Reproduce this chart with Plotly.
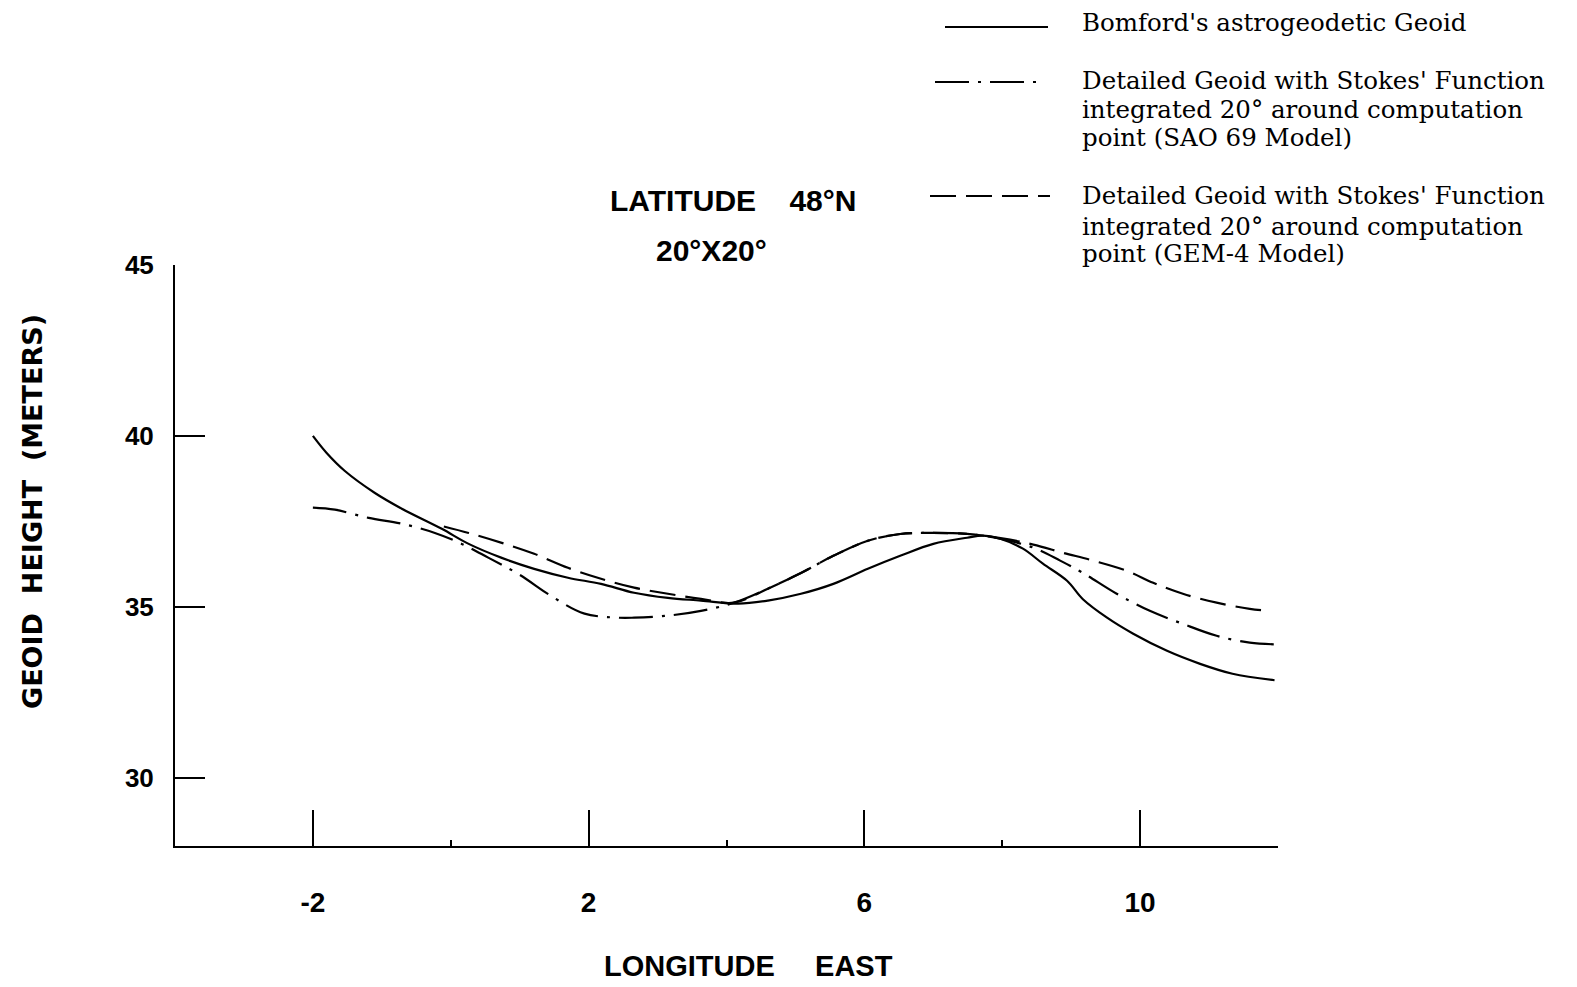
import plotly.graph_objects as go

# ---------------- data ----------------
bomford_x = [-2.0, -1.80, -1.54, -1.10, -0.71, -0.13, 0.26, 0.74, 1.21, 1.70, 2.18, 2.66, 3.15, 3.63,
             4.17, 4.60, 5.08, 5.55, 6.05, 6.52, 7.00, 7.49, 7.72, 7.97, 8.30, 8.59, 8.94,
             9.17, 9.52, 9.90, 10.39, 10.87, 11.34, 11.95]
bomford_y = [40.00, 39.50, 38.98, 38.33, 37.87, 37.28, 36.84, 36.43, 36.11, 35.85, 35.67, 35.41, 35.26, 35.18,
             35.09, 35.18, 35.38, 35.67, 36.11, 36.49, 36.84, 37.02, 37.08, 36.99, 36.70, 36.26, 35.76,
             35.22, 34.68, 34.21, 33.71, 33.33, 33.04, 32.85]

sao69_x = [-2.0, -1.68, -1.19, -0.71, -0.23, 0.16, 0.55, 0.98, 1.50, 1.94, 2.43, 2.66, 3.15, 3.63,
           4.11, 4.60, 5.08, 5.55, 6.05, 6.52, 7.00, 7.49, 7.97, 8.45, 8.84, 9.17, 9.66,
           10.14, 10.62, 11.11, 11.59, 11.95]
sao69_y = [37.90, 37.84, 37.60, 37.43, 37.16, 36.84, 36.43, 35.96, 35.26, 34.80, 34.68, 34.68, 34.74, 34.88,
           35.12, 35.53, 35.99, 36.49, 36.93, 37.13, 37.16, 37.13, 36.99, 36.73, 36.35, 35.99, 35.38,
           34.88, 34.50, 34.15, 33.95, 33.90]

gem4_x = [-0.10, 0.26, 0.74, 1.21, 1.70, 2.18, 2.66, 3.15, 3.63, 4.11, 4.60, 5.08, 5.55, 6.05,
          6.52, 7.00, 7.49, 8.00, 8.45, 8.88, 9.32, 9.81, 10.19, 10.62, 11.11, 11.59, 11.90]
gem4_y = [37.35, 37.16, 36.87, 36.55, 36.14, 35.82, 35.56, 35.38, 35.23, 35.12, 35.53, 35.99, 36.49, 36.93,
          37.13, 37.16, 37.13, 37.00, 36.82, 36.58, 36.35, 36.05, 35.70, 35.38, 35.12, 34.94, 34.88]

x_tickvals = [-2, 2, 6, 10, 12]
x_ticktext = ["-2", "2", "6", "10", ""]
x_minor_ticks = [0, 4, 8]
y_tickvals = [30, 35, 40, 45]
y_ticktext = ["30", "35", "40", "45"]

legend_lines = [
    ["Bomford's astrogeodetic Geoid"],
    ["Detailed Geoid with Stokes' Function", "integrated 20° around computation", "point (SAO 69 Model)"],
    ["Detailed Geoid with Stokes' Function", "integrated 20° around computation", "point (GEM-4 Model)"],
]
title_lines = ["LATITUDE\u00a0\u00a0\u00a0\u00a048°N", "20°X20°"]
x_title = "LONGITUDE\u00a0\u00a0\u00a0\u00a0\u00a0EAST"
y_title = "GEOID\u00a0\u00a0HEIGHT\u00a0\u00a0(METERS)"

# ---------------- layout geometry ----------------
W, H = 1577, 987
OFF = 8  # page body margin
L, T = 167, 257
PW, PH = 1103, 581
R, B = W - L - PW, H - T - PH


def px(xp):
    return (xp - OFF - L) / PW


def py(yp):
    return (T + PH - (yp - OFF)) / PH


SANS = "Liberation Sans"
WIDE_SANS = "DejaVu Sans"
SERIF = "DejaVu Serif"
DASHDOT = "34px,9px,3px,9px"
DASHED = "26px,10px"
SM = 1.0

fig = go.Figure()
fig.add_trace(go.Scatter(x=bomford_x, y=bomford_y, mode="lines",
                         line=dict(color="black", width=2.2, shape="spline", smoothing=SM),
                         showlegend=False))
fig.add_trace(go.Scatter(x=sao69_x, y=sao69_y, mode="lines",
                         line=dict(color="black", width=2.2, shape="spline", smoothing=SM, dash=DASHDOT),
                         showlegend=False))
fig.add_trace(go.Scatter(x=gem4_x, y=gem4_y, mode="lines",
                         line=dict(color="black", width=2.2, shape="spline", smoothing=SM, dash=DASHED),
                         showlegend=False))

shapes = []
annotations = []
# legend samples and texts
legend_items = [
    (945, 1048, 27, None, [22]),
    (935, 1043, 82, DASHDOT, [80, 110, 137]),
    (930, 1050, 196, DASHED, [196, 226, 254]),
]
for (x0, x1, yl, dash, ys), lines in zip(legend_items, legend_lines):
    ln = dict(color="black", width=2)
    if dash:
        ln["dash"] = dash
    shapes.append(dict(type="line", xref="paper", yref="paper",
                       x0=px(x0), x1=px(x1), y0=py(yl), y1=py(yl), line=ln))
    for yt, txt in zip(ys, lines):
        annotations.append(dict(xref="paper", yref="paper", x=px(1080), y=py(yt),
                                xanchor="left", yanchor="middle", align="left", showarrow=False,
                                text=txt, font=dict(family=SERIF, size=24.5, color="black")))

annotations.append(dict(xref="paper", yref="paper", x=px(733), y=py(201), xanchor="center",
                        yanchor="middle", showarrow=False, text=title_lines[0],
                        font=dict(family=SANS, size=30, color="black", weight="bold")))
annotations.append(dict(xref="paper", yref="paper", x=px(711), y=py(250), xanchor="center",
                        yanchor="middle", showarrow=False, text=title_lines[1],
                        font=dict(family=SANS, size=30, color="black", weight="bold")))
annotations.append(dict(xref="paper", yref="paper", x=px(748), y=py(966), xanchor="center",
                        yanchor="middle", showarrow=False, text=x_title,
                        font=dict(family=SANS, size=29, color="black", weight="bold")))
annotations.append(dict(xref="paper", yref="paper", x=px(32), y=py(512), xanchor="center",
                        yanchor="middle", showarrow=False, text=y_title, textangle=-90,
                        font=dict(family=WIDE_SANS, size=27, color="black", weight="bold")))

fig.update_layout(
    width=W, height=H,
    margin=dict(l=L, r=R, t=T, b=B),
    paper_bgcolor="white", plot_bgcolor="white",
    shapes=shapes, annotations=annotations,
    xaxis=dict(range=[-4, 12], showgrid=False, zeroline=False, showline=True,
               linecolor="black", linewidth=2,
               tickmode="array", tickvals=x_tickvals, ticktext=x_ticktext,
               ticks="inside", ticklen=36, tickwidth=2, tickcolor="black",
               ticklabelstandoff=30,
               tickfont=dict(family=SANS, size=28, color="black", weight="bold"),
               minor=dict(tickmode="array", tickvals=x_minor_ticks, ticks="inside",
                          ticklen=6, tickwidth=1.5, tickcolor="black", showgrid=False)),
    yaxis=dict(range=[28, 45], showgrid=False, zeroline=False, showline=True,
               linecolor="black", linewidth=2,
               tickmode="array", tickvals=y_tickvals, ticktext=y_ticktext,
               ticks="inside", ticklen=30, tickwidth=2, tickcolor="black",
               ticklabelstandoff=14,
               tickfont=dict(family=SANS, size=26, color="black", weight="bold")),
)

fig.write_html("out.html")
